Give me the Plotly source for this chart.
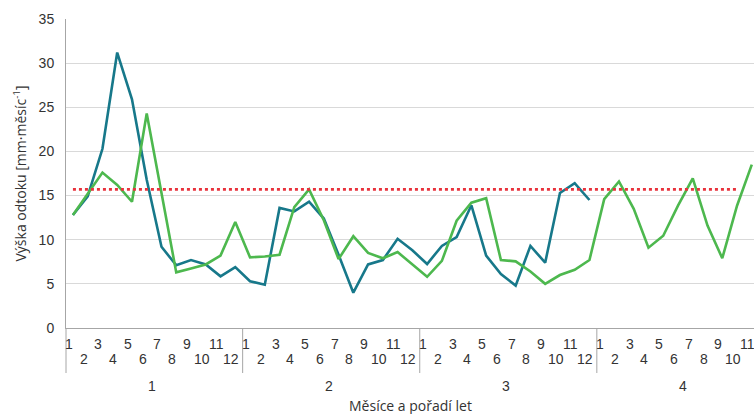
import plotly.graph_objects as go

# ---- data ----
month_labels = [str(m) for m in range(1, 13)] * 3 + [str(m) for m in range(1, 12)]
year_labels = ["1", "2", "3", "4"]
months_per_year = 12

teal_values = [12.8, 14.9, 20.3, 31.2, 25.9, 16.8, 9.2, 7.1, 7.7, 7.2, 5.85, 6.9,
               5.3, 4.9, 13.6, 13.2, 14.3, 12.4, 8.3, 4.0, 7.2, 7.7, 10.1, 8.8,
               7.25, 9.3, 10.3, 13.9, 8.2, 6.1, 4.8, 9.3, 7.4, 15.3, 16.4, 14.5]
green_values = [12.8, 15.2, 17.6, 16.2, 14.3, 24.3, 15.5, 6.3, 6.75, 7.2, 8.2, 12.0,
                8.0, 8.1, 8.3, 13.7, 15.7, 12.2, 7.8, 10.4, 8.5, 7.9, 8.6, 7.25,
                5.8, 7.6, 12.15, 14.2, 14.7, 7.7, 7.55, 6.4, 5.0, 6.0, 6.6, 7.7,
                14.6, 16.6, 13.5, 9.1, 10.45, 13.85, 16.95, 11.6, 7.9, 13.85, 18.5]
mean_value = 15.7
mean_count = 46

y_title = "Výška odtoku [mm·měsíc<sup>-1</sup>]"
x_title = "Měsíce a pořadí let"

FONT = "Liberation Sans"
TITLE_FONT = "Open Sans"
TXT = "#333333"

fig = go.Figure()
fig.add_trace(go.Scatter(x=list(range(len(teal_values))), y=teal_values, mode="lines",
                         line=dict(color="#17788A", width=2.6), showlegend=False))
fig.add_trace(go.Scatter(x=list(range(len(green_values))), y=green_values, mode="lines",
                         line=dict(color="#4DB84E", width=2.6), showlegend=False))
fig.add_trace(go.Scatter(x=list(range(mean_count)), y=[mean_value] * mean_count, mode="lines",
                         line=dict(color="#E8323C", width=2.6, dash="dot"), showlegend=False))

plot_h = 414 - 19 - 86
annotations = []
for i, lab in enumerate(month_labels):
    annotations.append(dict(x=i, y=0, xref="x", yref="paper", text=lab, showarrow=False,
                            xanchor="center", yanchor="middle", xshift=-4,
                            yshift=-16 if i % 2 == 0 else -31,
                            font=dict(family=FONT, size=14, color=TXT)))
for k, ylab in enumerate(year_labels):
    annotations.append(dict(x=k * months_per_year + (months_per_year - 1) / 2, y=0,
                            xref="x", yref="paper", text=ylab, showarrow=False,
                            xanchor="center", yanchor="middle", xshift=-2, yshift=-58,
                            font=dict(family=FONT, size=14, color=TXT)))
annotations.append(dict(x=0.5, y=0, xref="paper", yref="paper", text=x_title, showarrow=False,
                        xanchor="center", yanchor="middle", yshift=-77,
                        font=dict(family=TITLE_FONT, size=14, color=TXT)))
annotations.append(dict(x=0, y=0.5, xref="paper", yref="paper", text=y_title, showarrow=False,
                        textangle=-90, xanchor="center", yanchor="middle", xshift=-46,
                        font=dict(family=TITLE_FONT, size=14, color=TXT)))

sep_len = 45 / plot_h
shapes = [dict(type="line", xref="paper", yref="paper", x0=0, x1=0, y0=0, y1=-sep_len,
               line=dict(color="#a6a6a6", width=1))]
for k in range(1, len(year_labels)):
    xs = k * months_per_year - 0.5
    shapes.append(dict(type="line", xref="x", yref="paper", x0=xs, x1=xs, y0=0, y1=-sep_len,
                       line=dict(color="#a6a6a6", width=1)))

fig.update_layout(
    width=754, height=414,
    margin=dict(l=66, r=0, t=19, b=86),
    paper_bgcolor="white", plot_bgcolor="white",
    xaxis=dict(range=[-0.47, 46.15], showticklabels=False, ticks="", showgrid=False,
               zeroline=False, showline=True, linecolor="#a6a6a6", linewidth=1),
    yaxis=dict(range=[0, 35], tickvals=[0, 5, 10, 15, 20, 25, 30, 35], showgrid=True,
               gridcolor="#d9d9d9", gridwidth=1, zeroline=False, showline=True,
               linecolor="#a6a6a6", linewidth=1, ticks="", ticklabelstandoff=8,
               tickfont=dict(family=FONT, size=14, color=TXT)),
    annotations=annotations, shapes=shapes,
)

fig.write_html("out.html", config={"displayModeBar": False},
               post_script="document.body.style.margin='0';document.body.style.overflow='hidden';")
